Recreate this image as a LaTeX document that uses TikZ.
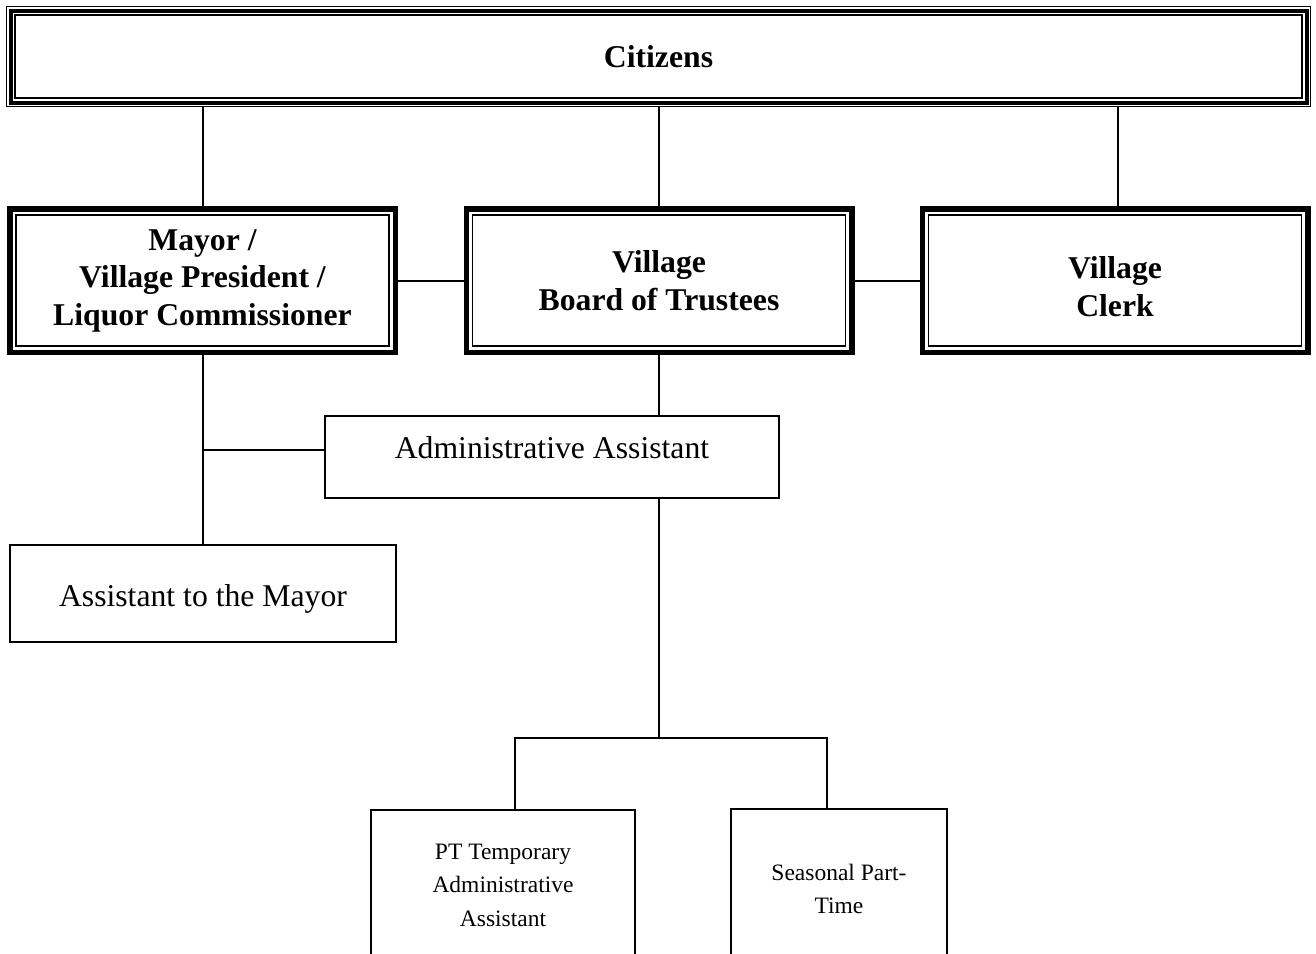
\documentclass[tikz,border=0pt]{standalone}
\usepackage{fontspec}
\setmainfont{Liberation Serif}
\tikzset{
  tri/.style={draw, line width=1.2pt, fill=white, align=center, inner sep=0pt, outer sep=9.3pt,
    preaction={draw, black, line width=18.6pt}, preaction={draw, white, line width=16.4pt},
    preaction={draw, black, line width=13pt}, preaction={draw, white, line width=5pt},
    font=\bfseries\fontsize{31.7pt}{37.5pt}\selectfont},
  hd/.style={draw, line width=1.2pt, fill=white, align=center, inner sep=0pt, outer sep=9pt,
    minimum width=373pt, minimum height=131pt,
    preaction={draw, black, line width=18pt}, preaction={draw, white, line width=7pt},
    font=\bfseries\fontsize{31.7pt}{37.5pt}\selectfont},
  pl/.style={draw, line width=2pt, align=center, inner sep=0pt, font=\fontsize{31.7pt}{37.5pt}\selectfont},
  sm/.style={pl, font=\fontsize{23.5pt}{33.5pt}\selectfont},
  ln/.style={line width=2pt}
}
\begin{document}
\begin{tikzpicture}[x=1pt, y=-1pt]
\useasboundingbox (0,0) rectangle (1316,953);
\clip (0,0) rectangle (1316,953);
\node[tri, minimum width=1287pt, minimum height=83pt] (cit) at (658.5,56.5) {Citizens};
\node[hd] (mayor) at (202.5,280.5) {Mayor /\\ Village President /\\ Liquor Commissioner};
\node[hd] (board) at (659,280.5) {Village\\ Board of Trustees};
\node[hd, text height=72pt] (clerk) at (1115,280.5) {Village\\ Clerk};
\node[pl, minimum width=454pt, minimum height=82pt, text depth=20pt] (admin) at (552,457) {Administrative Assistant};
\node[pl, minimum width=386pt, minimum height=97pt, text height=32pt] (asst) at (203,593.5) {Assistant to the Mayor};
\node[sm, minimum width=264pt, minimum height=150pt] (pt) at (503,885) {PT Temporary\\ Administrative\\ Assistant};
\node[sm, minimum width=216pt, minimum height=160pt] (seas) at (839,889) {Seasonal Part-\\Time};
\coordinate (fork) at (659,738);
% citizens to the three heads
\draw[ln] (cit.south -| mayor.north) -- (mayor.north);
\draw[ln] (board.north |- cit.south) -- (board.north);
\draw[ln] ([xshift=3pt]clerk.north |- cit.south) -- ([xshift=3pt]clerk.north);
\draw[ln] (mayor) -- (board); \draw[ln] (board) -- (clerk);
% staff
\draw[ln] (mayor.south) -- (mayor.south |- asst.north);
\draw[ln] ([yshift=7pt]admin.west) -- ([yshift=7pt]admin.west -| mayor.south);
\draw[ln] (board.south) -- (board.south |- admin.north);
\draw[ln] (board.south |- admin.south) -- (fork);
\draw[ln] ([xshift=12pt]pt.north) |- (fork) -| ([xshift=-12pt]seas.north);
\end{tikzpicture}
\end{document}
